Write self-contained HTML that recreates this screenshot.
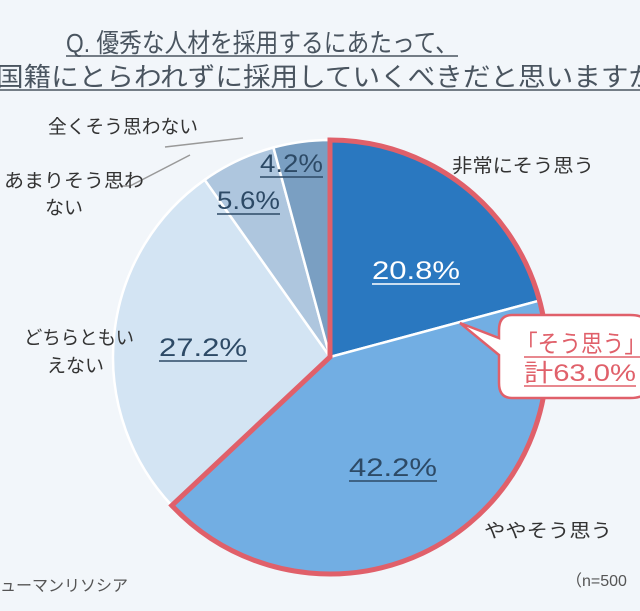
<!DOCTYPE html>
<html><head><meta charset="utf-8"><style>
body{margin:0;background:#f2f6fa;}
svg{display:block;font-family:"Liberation Sans","Noto Sans CJK JP",sans-serif;}
</style></head><body>
<svg width="640" height="611" viewBox="0 0 640 611">
<rect width="640" height="611" fill="#f2f6fa"/>
<text x="66" y="52" font-size="26" fill="#4a5560" textLength="392" lengthAdjust="spacingAndGlyphs">Q. 優秀な人材を採用するにあたって、</text>
<line x1="66" y1="56" x2="458" y2="56" stroke="#4a5560" stroke-width="1.5"/>
<text x="-4" y="86" font-size="26" fill="#4a5560" textLength="660" lengthAdjust="spacingAndGlyphs">国籍にとらわれずに採用していくべきだと思いますか</text>
<line x1="0" y1="90" x2="640" y2="90" stroke="#4a5560" stroke-width="1.5"/>
<g stroke="#fff" stroke-width="2.5">
<path d="M330,357 L330,140 A217,217 0 0 1 539.5,300.6 Z" fill="#2a78c0"/>
<path d="M330,357 L539.5,300.6 A217,217 0 0 1 171.8,505.5 Z" fill="#72aee3"/>
<path d="M330,357 L171.8,505.5 A217,217 0 0 1 204.7,179.8 Z" fill="#d3e4f3"/>
<path d="M330,357 L204.7,179.8 A217,217 0 0 1 273.4,147.5 Z" fill="#aec6de"/>
<path d="M330,357 L273.4,147.5 A217,217 0 0 1 330,140 Z" fill="#7a9fc2"/>
</g>
<path d="M330,357 L330,140 A217,217 0 1 1 171.8,505.5 Z" fill="none" stroke="#e0606a" stroke-width="5" stroke-linejoin="miter"/>
<path d="M165,147 L243,138" stroke="#999" stroke-width="1.5" fill="none"/>
<path d="M120,186 L130,186 L190,155" stroke="#999" stroke-width="1.5" fill="none"/>
<g font-size="19" fill="#333">
<text x="48" y="133" textLength="150" lengthAdjust="spacingAndGlyphs">全くそう思わない</text>
<text x="4" y="187" textLength="140" lengthAdjust="spacingAndGlyphs">あまりそう思わ</text>
<text x="45" y="214">ない</text>
<text x="24" y="344" textLength="110" lengthAdjust="spacingAndGlyphs">どちらともい</text>
<text x="47" y="372">えない</text>
<text x="452" y="172" textLength="142" lengthAdjust="spacingAndGlyphs">非常にそう思う</text>
<text x="484" y="537" textLength="128" lengthAdjust="spacingAndGlyphs">ややそう思う</text>
<text x="0" y="591" font-size="16" fill="#555">ューマンリソシア</text>
<text x="566" y="586" font-size="16" fill="#555">（n=500</text>
</g>
<g font-size="25">
<text x="372" y="279" fill="#fff" textLength="88" lengthAdjust="spacingAndGlyphs">20.8%</text>
<line x1="372" y1="284" x2="460" y2="284" stroke="#fff" stroke-width="1.5"/>
<text x="349" y="476" fill="#2d4a66" textLength="88" lengthAdjust="spacingAndGlyphs">42.2%</text>
<line x1="349" y1="481" x2="437" y2="481" stroke="#2d4a66" stroke-width="1.5"/>
<text x="159" y="356" fill="#2d4a66" textLength="88" lengthAdjust="spacingAndGlyphs">27.2%</text>
<line x1="159" y1="361" x2="247" y2="361" stroke="#2d4a66" stroke-width="1.5"/>
<text x="217" y="209" fill="#2d4a66" textLength="63" lengthAdjust="spacingAndGlyphs">5.6%</text>
<line x1="217" y1="214" x2="280" y2="214" stroke="#2d4a66" stroke-width="1.5"/>
<text x="260" y="172" fill="#2d4a66" textLength="63" lengthAdjust="spacingAndGlyphs">4.2%</text>
<line x1="260" y1="177" x2="323" y2="177" stroke="#2d4a66" stroke-width="1.5"/>
</g>
<path d="M512,315 L630,315 Q650,315 650,330 L650,383 Q650,398 630,398 L512,398 Q499,398 499,383 L499,355 L460,323 L499,338 L499,330 Q499,315 512,315 Z" fill="#fff" stroke="#e0606a" stroke-width="2.5"/>
<g font-size="24" fill="#e0606a">
<text x="516" y="352" textLength="130" lengthAdjust="spacingAndGlyphs">「そう思う」</text>
<line x1="524" y1="357" x2="640" y2="357" stroke="#e0606a" stroke-width="1.5"/>
<text x="524" y="381" textLength="112" lengthAdjust="spacingAndGlyphs">計63.0%</text>
<line x1="524" y1="386" x2="636" y2="386" stroke="#e0606a" stroke-width="1.5"/>
</g>
</svg>
</body></html>
